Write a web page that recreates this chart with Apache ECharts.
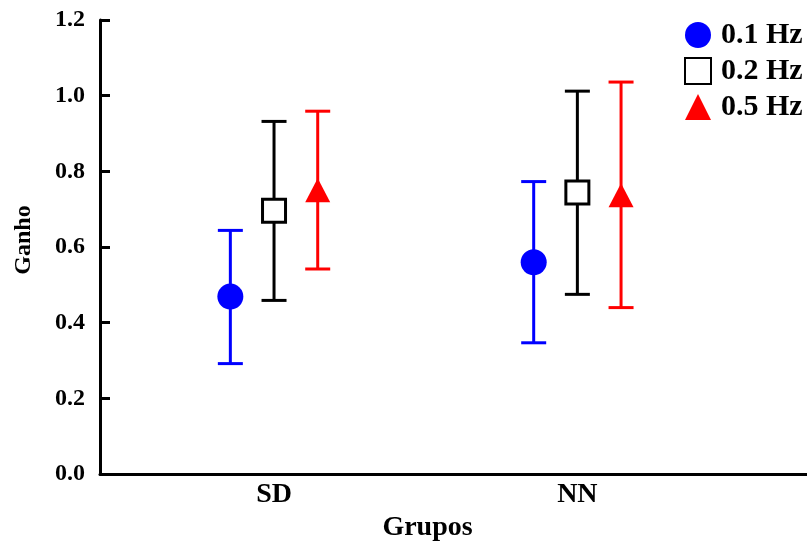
<!DOCTYPE html>
<html>
<head>
<meta charset="utf-8">
<script src="https://cdn.jsdelivr.net/npm/echarts@6/dist/echarts.min.js"></script>
<style>
html,body{margin:0;padding:0;background:#fff;}
#chart{width:807px;height:547px;}
</style>
</head>
<body>
<div id="chart"></div>
<script>
// ---- data ----
var categories = ['SD', 'NN'];
var groupPositions = [1, 2];
var seriesNames = ['0.1 Hz', '0.2 Hz', '0.5 Hz'];
var seriesOffsets = [-0.144, 0, 0.144];
var mean_01 = [0.469, 0.560];
var upper_01 = [0.644, 0.773];
var lower_01 = [0.292, 0.347];
var mean_02 = [0.696, 0.744];
var upper_02 = [0.932, 1.012];
var lower_02 = [0.459, 0.475];
var mean_05 = [0.750, 0.737];
var upper_05 = [0.959, 1.036];
var lower_05 = [0.542, 0.440];
var yTickLabels = ['0.0', '0.2', '0.4', '0.6', '0.8', '1.0', '1.2'];

var means = [mean_01, mean_02, mean_05];
var uppers = [upper_01, upper_02, upper_05];
var lowers = [lower_01, lower_02, lower_05];
var colors = ['#0000ff', '#000000', '#ff0000'];
var FONT = '"Liberation Serif", "Times New Roman", serif';

var chart = echarts.init(document.getElementById('chart'));

var series = [];
seriesNames.forEach(function (name, s) {
  var errData = [];
  categories.forEach(function (c, i) {
    var x = groupPositions[i] + seriesOffsets[s];
    errData.push([x, lowers[s][i], uppers[s][i]]);
  });
  series.push({
    type: 'custom',
    name: name + ' err',
    z: 2,
    silent: true,
    data: errData,
    renderItem: function (params, api) {
      var x = api.value(0);
      var lo = api.coord([x, api.value(1)]);
      var hi = api.coord([x, api.value(2)]);
      var hw = 12.5;
      var st = { stroke: colors[s], lineWidth: 3, fill: null };
      return {
        type: 'group',
        children: [
          { type: 'line', shape: { x1: lo[0], y1: lo[1], x2: hi[0], y2: hi[1] }, style: st },
          { type: 'line', shape: { x1: hi[0] - hw, y1: hi[1], x2: hi[0] + hw, y2: hi[1] }, style: st },
          { type: 'line', shape: { x1: lo[0] - hw, y1: lo[1], x2: lo[0] + hw, y2: lo[1] }, style: st }
        ]
      };
    }
  });
});

var symbols = ['circle', 'rect', 'triangle'];
var symbolSizes = [26, 23, [25, 24]];
seriesNames.forEach(function (name, s) {
  var ptData = [];
  categories.forEach(function (c, i) {
    ptData.push([groupPositions[i] + seriesOffsets[s], means[s][i]]);
  });
  var itemStyle = s === 1
    ? { color: '#ffffff', borderColor: '#000000', borderWidth: 3, opacity: 1 }
    : { color: colors[s], opacity: 1 };
  series.push({
    type: 'scatter',
    name: name,
    z: 5,
    symbol: symbols[s],
    symbolSize: symbolSizes[s],
    itemStyle: itemStyle,
    data: ptData
  });
});

chart.setOption({
  animation: false,
  backgroundColor: '#ffffff',
  grid: { left: 100, right: 0, top: 20, bottom: 69, containLabel: false },
  legend: {
    data: seriesNames,
    orient: 'vertical',
    left: 679,
    top: 15,
    itemWidth: 26,
    itemHeight: 26,
    itemGap: 6,
    textStyle: { fontFamily: FONT, fontWeight: 'bold', fontSize: 30, lineHeight: 26, color: '#000', padding: [0, 0, 0, 5] }
  },
  xAxis: {
    type: 'value',
    min: 0.4263,
    max: 2.757,
    name: 'Grupos',
    nameLocation: 'middle',
    nameGap: 28,
    nameTextStyle: { fontFamily: FONT, fontWeight: 'bold', fontSize: 28, color: '#000', padding: [0, 52, 0, 0], verticalAlign: 'top' },
    axisLine: { show: true, onZero: false, lineStyle: { color: '#000', width: 3 } },
    axisTick: { show: false },
    splitLine: { show: false },
    axisLabel: {
      customValues: groupPositions,
      margin: 7,
      fontFamily: FONT, fontWeight: 'bold', fontSize: 28, color: '#000',
      formatter: function (v) {
        var idx = groupPositions.indexOf(v);
        return idx >= 0 ? categories[idx] : '';
      }
    }
  },
  yAxis: {
    type: 'value',
    min: 0,
    max: 1.2,
    interval: 0.2,
    name: 'Ganho',
    nameLocation: 'middle',
    nameGap: 64,
    nameTextStyle: { fontFamily: FONT, fontWeight: 'bold', fontSize: 24, color: '#000', padding: [0, 0, 0, 14] },
    axisLine: { show: true, lineStyle: { color: '#000', width: 3 } },
    axisTick: { show: true, inside: true, length: 10, lineStyle: { color: '#000', width: 3 } },
    splitLine: { show: false },
    axisLabel: {
      margin: 15,
      fontFamily: FONT, fontWeight: 'bold', fontSize: 24, color: '#000',
      formatter: function (v) { return yTickLabels[Math.round(v / 0.2)]; }
    }
  },
  series: series
});
</script>
</body>
</html>
